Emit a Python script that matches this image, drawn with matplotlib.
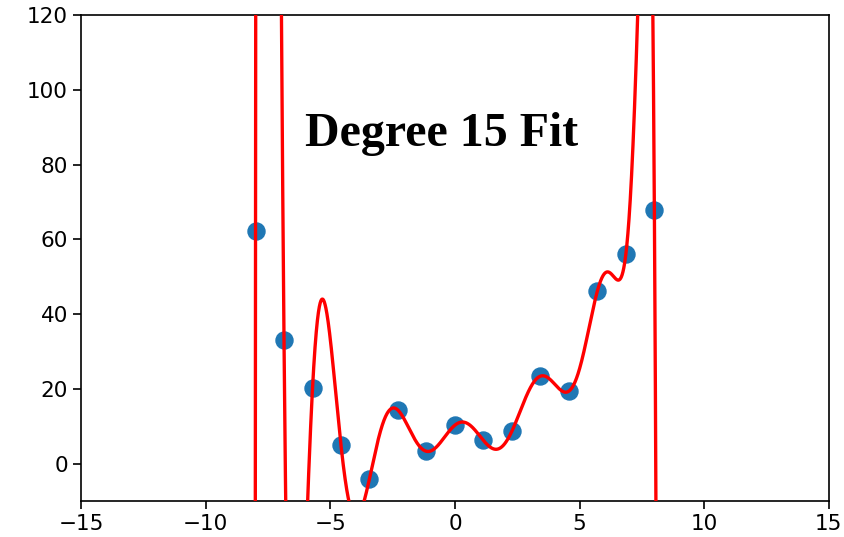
import numpy as np
import matplotlib
matplotlib.use('Agg')
import matplotlib.pyplot as plt
import warnings

### DATA ###

x_pts = np.linspace(-8, 8, 15)                                      # sample positions
y_pts = np.array([62.2, 33.0, 20.1, 4.9, -4.0, 14.3, 3.3, 10.3,
                  6.2, 8.7, 23.4, 19.4, 46.2, 56.1, 67.8])          # sampled values
degree = 15

### FIT ###

with warnings.catch_warnings():
    warnings.simplefilter('ignore')                                  # polyfit is rank deficient here
    coef = np.polyfit(x_pts, y_pts, degree)
x_fit = np.linspace(-8.2, 8.2, 4000)
y_fit = np.polyval(coef, x_fit)

### PLOT ###

fig = plt.figure(figsize=(8.45, 5.37), dpi=100)
ax = fig.add_axes([0.0959, 0.067, 0.885, 0.905])
ax.scatter(x_pts, y_pts, s=150, color='#1f77b4', zorder=2)
ax.plot(x_fit, y_fit, color='red', lw=2.4, zorder=3)
ax.set_xlim(-15, 15)
ax.set_ylim(-10, 120)
ax.set_xticks([-15, -10, -5, 0, 5, 10, 15])
ax.set_yticks([0, 20, 40, 60, 80, 100, 120])
ax.tick_params(labelsize=15.5, length=6, width=1.2)
for sp in ax.spines.values():
    sp.set_linewidth(1.2)
ax.text(-6, 85, 'Degree 15 Fit', family='Liberation Serif', fontweight='bold', fontsize=34.5)

fig.savefig('out.png', dpi=100)
